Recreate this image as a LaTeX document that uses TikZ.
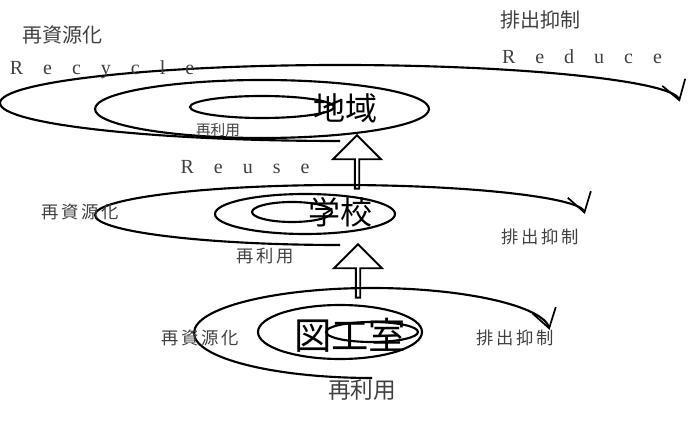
\documentclass[tikz,border=0pt]{standalone}
\usepackage{fontspec}
\newfontfamily\jp{Noto Sans CJK JP}
\setmainfont{Liberation Serif}
\usetikzlibrary{arrows.meta,shapes.arrows}
\tikzset{
  loop/.style={line width=1.6pt},
  spin/.style={line width=1.6pt,-{Straight Barb[length=14pt,width=18pt,line width=1.3pt]}},
  lbl/.style={text=black!75,font=\jp\fontsize{11}{13}\selectfont},
  big/.style={font=\jp\fontsize{24}{26}\selectfont},
  eng/.style={text=black!75,font=\fontsize{15}{17}\selectfont},
  up/.style={single arrow,draw,line width=1.4pt,shape border rotate=90,
    minimum height=40pt,minimum width=36pt,single arrow head extend=7pt,inner sep=0pt}
}
\begin{document}
\begin{tikzpicture}[x=0.75pt,y=-0.75pt]
\useasboundingbox (0,0) rectangle (695,427);
% top level
\draw[loop] (262,107) ellipse (72 and 11);
\draw[loop] (262,109) ellipse (167 and 29);
\draw[spin] (340,141) arc[start angle=90,end angle=358,x radius=340,y radius=38];
\node[big] (area) at (345,108) {地域};
\node[lbl] (reuseT) at (218,130) {再利用};
\node[eng] (recyT) at (102,70) {R\quad e\quad c\quad y\quad c\quad l\quad e};
\node[lbl,font=\jp\fontsize{15}{17}\selectfont] (recyJ) at (62,35) {再資源化};
\node[lbl,font=\jp\fontsize{15}{17}\selectfont] (redJ) at (540,20) {排出抑制};
\node[eng] (redT) at (582,57) {R\quad e\quad d\quad u\quad c\quad e};
\node[eng] (reuse) at (245,167) {R\quad e\quad u\quad s\quad e};
\node[up] (up1) at (357,163) {};
% middle level
\draw[loop] (292,212) ellipse (40 and 10);
\draw[loop] (305,214) ellipse (90 and 20);
\draw[spin] (340,245) arc[start angle=90,end angle=358,x radius=245,y radius=30];
\node[big] (school) at (340,212) {学校};
\node[lbl,font=\jp\fontsize{13}{15}\selectfont] (recyM) at (80,212) {再\,資\,源\,化};
\node[lbl,font=\jp\fontsize{13}{15}\selectfont] (redM) at (540,237) {排\,出\,抑\,制};
\node[lbl,font=\jp\fontsize{13}{15}\selectfont] (reuseM) at (265,256) {再\,利\,用};
\node[up] (up2) at (358,272) {};
% bottom level
\draw[loop] (372,332) ellipse (46 and 10);
\draw[loop] (340,332) ellipse (82 and 27);
\draw[spin] (372,378) arc[start angle=90,end angle=356,x radius=178,y radius=45];
\node[big,font=\jp\fontsize{28}{30}\selectfont] (room) at (350,335) {図工室};
\node[lbl,font=\jp\fontsize{13}{15}\selectfont] (recyB) at (200,338) {再\,資\,源\,化};
\node[lbl,font=\jp\fontsize{13}{15}\selectfont] (redB) at (515,338) {排\,出\,抑\,制};
\node[lbl,font=\jp\fontsize{17}{19}\selectfont] (reuseB) at (362,390) {再利用};
\end{tikzpicture}
\end{document}
